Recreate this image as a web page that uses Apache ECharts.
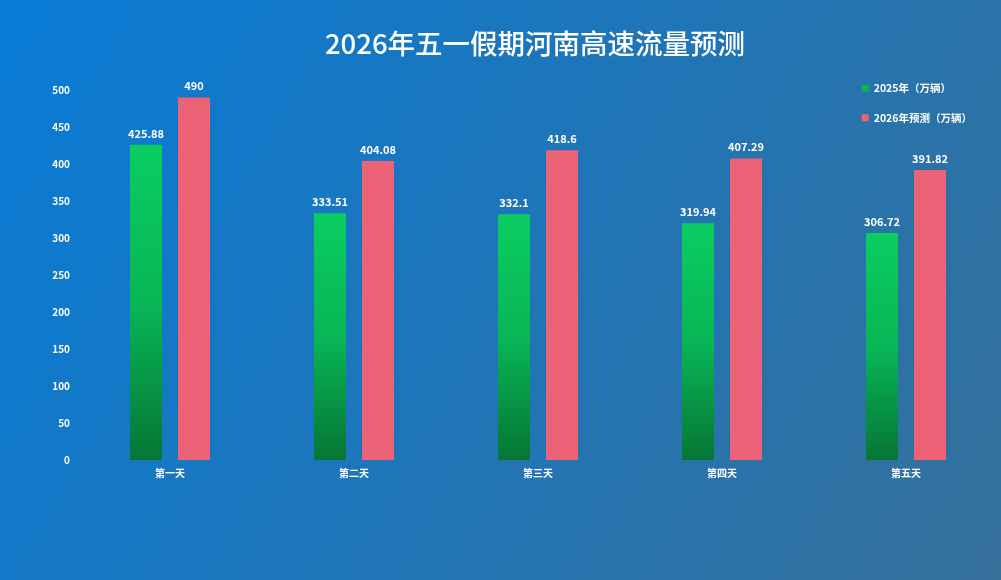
<!DOCTYPE html>
<html>
<head>
<meta charset="utf-8">
<title>2026年五一假期河南高速流量预测</title>
<script src="https://cdn.jsdelivr.net/npm/echarts@6/dist/echarts.min.js"></script>
<style>
  html, body { margin: 0; padding: 0; }
  #chart { width: 1001px; height: 580px; }
</style>
</head>
<body>
<div id="chart"></div>
<script>
// data
const days = ['第一天', '第二天', '第三天', '第四天', '第五天'];
const flow2025 = [425.88, 333.51, 332.1, 319.94, 306.72];
const forecast2026 = [490, 404.08, 418.6, 407.29, 391.82];
const yTicks = [0, 50, 100, 150, 200, 250, 300, 350, 400, 450, 500];

const font = '"Noto Sans CJK SC", "Noto Sans", sans-serif';

let myChart = echarts.init(document.getElementById('chart'));

const option = {
  backgroundColor: new echarts.graphic.LinearGradient(0, 0, 1, 1, [
    { offset: 0, color: '#087bd6' },
    { offset: 1, color: '#35709a' },
  ]),
  textStyle: { fontFamily: font },
  title: {
    text: '2026年五一假期河南高速流量预测',
    left: 530,
    textAlign: 'center',
    top: 25,
    textStyle: { color: '#ffffff', fontSize: 27.5, fontWeight: 500, fontFamily: font },
  },
  legend: {
    orient: 'vertical',
    right: 24,
    top: 78,
    itemGap: 19,
    itemWidth: 7,
    itemHeight: 7,
    icon: 'rect',
    textStyle: { color: '#ffffff', fontSize: 10.5, fontWeight: 'bold', fontFamily: font },
    data: [
      { name: '2025年（万辆）', itemStyle: { color: '#0bb64f' } },
      { name: '2026年预测（万辆）', itemStyle: { color: '#ec6277' } },
    ],
  },
  grid: { left: 78, right: 3, top: 90, bottom: 120 },
  xAxis: {
    type: 'category',
    data: days,
    axisLine: { show: false },
    axisTick: { show: false },
    axisLabel: { color: '#ffffff', fontSize: 10, fontWeight: 'bold', margin: 8 },
  },
  yAxis: {
    type: 'value',
    min: yTicks[0],
    max: yTicks[yTicks.length - 1],
    interval: 50,
    splitLine: { show: false },
    axisLine: { show: false },
    axisTick: { show: false },
    axisLabel: { color: '#ffffff', fontSize: 10, fontWeight: 'bold', margin: 8 },
  },
  series: [
    {
      name: '2025年（万辆）',
      type: 'bar',
      data: flow2025,
      barWidth: 32,
      barGap: '50%',
      itemStyle: {
        color: new echarts.graphic.LinearGradient(0, 0, 0, 1, [
          { offset: 0, color: '#0acd62' },
          { offset: 0.5, color: '#08b656' },
          { offset: 1, color: '#067636' },
        ]),
      },
      label: {
        show: true,
        position: 'top',
        distance: 6,
        color: '#ffffff',
        fontSize: 11,
        fontWeight: 'bold',
      },
    },
    {
      name: '2026年预测（万辆）',
      type: 'bar',
      data: forecast2026,
      barWidth: 32,
      itemStyle: { color: '#ec6277' },
      label: {
        show: true,
        position: 'top',
        distance: 6,
        color: '#ffffff',
        fontSize: 11,
        fontWeight: 'bold',
      },
    },
  ],
};

myChart.setOption(option);
</script>
</body>
</html>
